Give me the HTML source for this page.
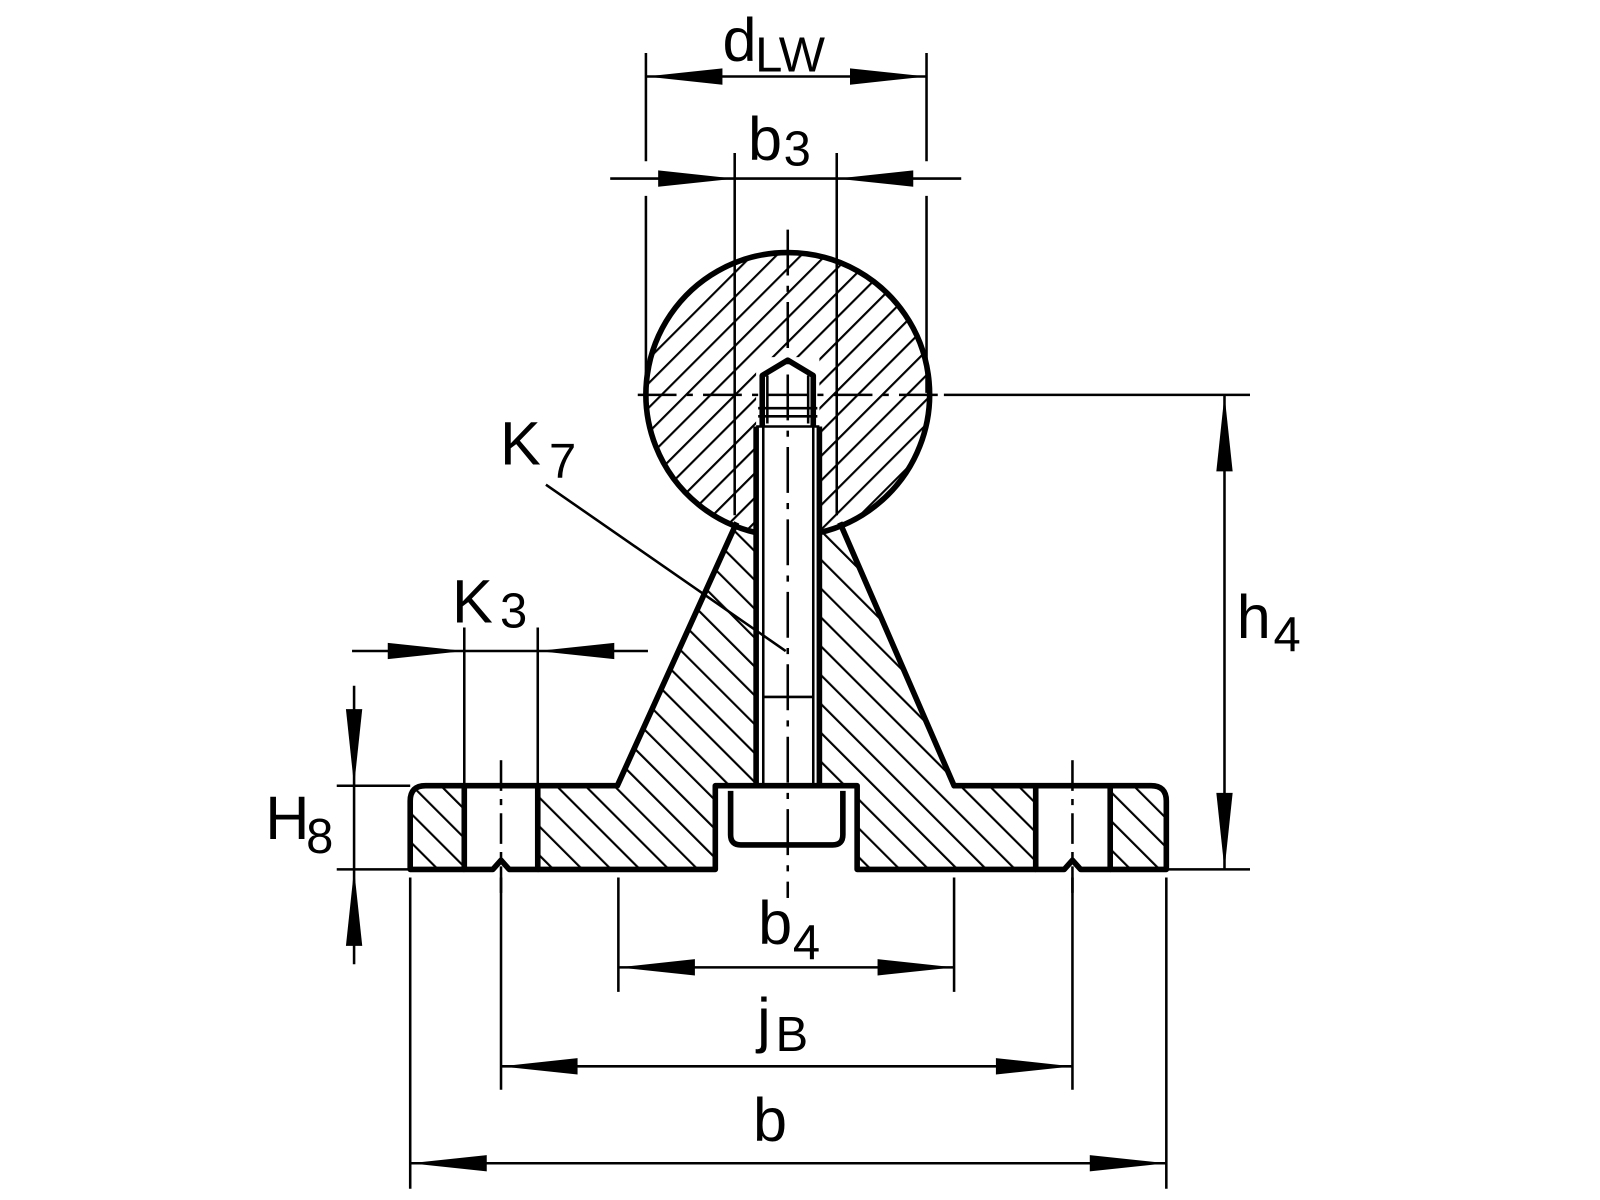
<!DOCTYPE html>
<html><head><meta charset="utf-8"><style>html,body{margin:0;padding:0;background:#fff}svg{display:block}</style></head>
<body>
<svg xmlns="http://www.w3.org/2000/svg" width="1600" height="1200" viewBox="0 0 1568 1176">
<defs>
<pattern id="hb" patternUnits="userSpaceOnUse" width="20" height="20" patternTransform="rotate(-45)"><line x1="1" y1="0" x2="1" y2="20" stroke="#000" stroke-width="2.2"/></pattern>
<pattern id="hf" patternUnits="userSpaceOnUse" width="17" height="17" patternTransform="rotate(45)"><line x1="1" y1="0" x2="1" y2="17" stroke="#000" stroke-width="2.2"/></pattern>
</defs>
<rect width="1568" height="1176" fill="#fff"/>
<circle cx="772" cy="387" r="139" fill="url(#hf)"/>
<rect x="741" y="350" width="62" height="200" fill="#fff"/>
<g fill="url(#hb)">
<path d="M402,852 L402,785 Q402,770 417,770 L455,770 L455,852 Z"/>
<path d="M527,852 L527,770 L605,770 L720,515 L741,522 L741,770 L701,770 L701,852 Z"/>
<path d="M803,522 L825,515 L935,770 L1015,770 L1015,852 L840,852 L840,770 L803,770 Z"/>
<path d="M1088,770 L1128,770 Q1143,770 1143,785 L1143,852 L1088,852 Z"/>
</g>
<g fill="none" stroke="#000" stroke-width="5.5" stroke-linejoin="round">
<path d="M741,522 A139,139 0 1 1 803,522"/>
<path d="M455,852 L402,852 L402,785 Q402,770 417,770 L605,770 L722,512"/>
<path d="M823,512 L935,770 L1128,770 Q1143,770 1143,785 L1143,852 L1088,852"/>
<path d="M455,770 L455,852 L483,852 L491,843 L499,852 L527,852 L527,770"/>
<path d="M527,852 L701,852 L701,770 L840,770 L840,852 L1015,852"/>
<path d="M1015,770 L1015,852 L1043,852 L1051,843 L1059,852 L1088,852 L1088,770"/>
<path d="M741,770 L741,418 M803,770 L803,418"/>
<path d="M747,418 L747,368 L772,353 L797,368 L797,418"/>
<path d="M716,775 L716,818 Q716,828 726,828 L816,828 Q826,828 826,818 L826,775"/>
</g>
<g fill="none" stroke="#000" stroke-width="2.5">
<path d="M748,418 L748,770 M797,418 L797,770 M748,683 L797,683"/>
<path d="M743,400 L801,400 M743,408 L801,408 M752,368 L752,415 M792,368 L792,415 M741,418 L803,418"/>
<path d="M772,225 L772,880" stroke-dasharray="45,10,6,10"/>
<path d="M625,387 L925,387" stroke-dasharray="38,10,6,10"/>
<path d="M491,745 L491,875" stroke-dasharray="30,8,6,8"/>
<path d="M1051,745 L1051,875" stroke-dasharray="30,8,6,8"/>
<path d="M925,387 L1225,387 M1143,852 L1225,852"/>
<path d="M633,52 L633,158 M633,192 L633,385 M908,52 L908,158 M908,192 L908,385"/>
<path d="M720,150 L720,505 M820,150 L820,505"/>
<path d="M455,615 L455,770 M527,615 L527,770"/>
<path d="M330,770 L402,770 M330,852 L402,852"/>
<path d="M606,860 L606,972 M935,860 L935,972"/>
<path d="M491,860 L491,1068 M1051,860 L1051,1068"/>
<path d="M402,860 L402,1165 M1143,860 L1143,1165"/>
<path d="M535,475 L770,638"/>
<path d="M633,75 L908,75"/>
<path d="M598,175 L942,175"/>
<path d="M345,638 L635,638"/>
<path d="M347,672 L347,945"/>
<path d="M1200,387 L1200,852"/>
<path d="M606,948 L935,948"/>
<path d="M491,1045 L1051,1045"/>
<path d="M402,1140 L1143,1140"/>
</g>
<g stroke="none" fill="#000">
<path d="M633,75 L708,67 L708,83 Z"/><path d="M908,75 L833,67 L833,83 Z"/>
<path d="M720,175 L645,167 L645,183 Z"/><path d="M820,175 L895,167 L895,183 Z"/>
<path d="M455,638 L380,630 L380,646 Z"/><path d="M527,638 L602,630 L602,646 Z"/>
<path d="M347,770 L339,695 L355,695 Z"/><path d="M347,852 L339,927 L355,927 Z"/>
<path d="M1200,387 L1192,462 L1208,462 Z"/><path d="M1200,852 L1192,777 L1208,777 Z"/>
<path d="M606,948 L681,940 L681,956 Z"/><path d="M935,948 L860,940 L860,956 Z"/>
<path d="M491,1045 L566,1037 L566,1053 Z"/><path d="M1051,1045 L976,1037 L976,1053 Z"/>
<path d="M402,1140 L477,1132 L477,1148 Z"/><path d="M1143,1140 L1068,1132 L1068,1148 Z"/>
</g>
<g font-family="Liberation Sans, sans-serif" fill="#000">
<text x="708" y="60" font-size="60">d</text><text x="740" y="70" font-size="48">LW</text>
<text x="733" y="157" font-size="60">b</text><text x="768" y="162" font-size="48">3</text>
<text x="490" y="455" font-size="60">K</text><text x="538" y="468" font-size="48">7</text>
<text x="443" y="610" font-size="60">K</text><text x="490" y="615" font-size="48">3</text>
<text x="1212" y="625" font-size="60">h</text><text x="1248" y="638" font-size="48">4</text>
<text x="260" y="822" font-size="60">H</text><text x="300" y="836" font-size="48">8</text>
<text x="743" y="925" font-size="60">b</text><text x="777" y="940" font-size="48">4</text>
<text x="742" y="1020" font-size="60">j</text><text x="760" y="1030" font-size="48">B</text>
<text x="738" y="1118" font-size="60">b</text>
</g>
</svg>
</body></html>
